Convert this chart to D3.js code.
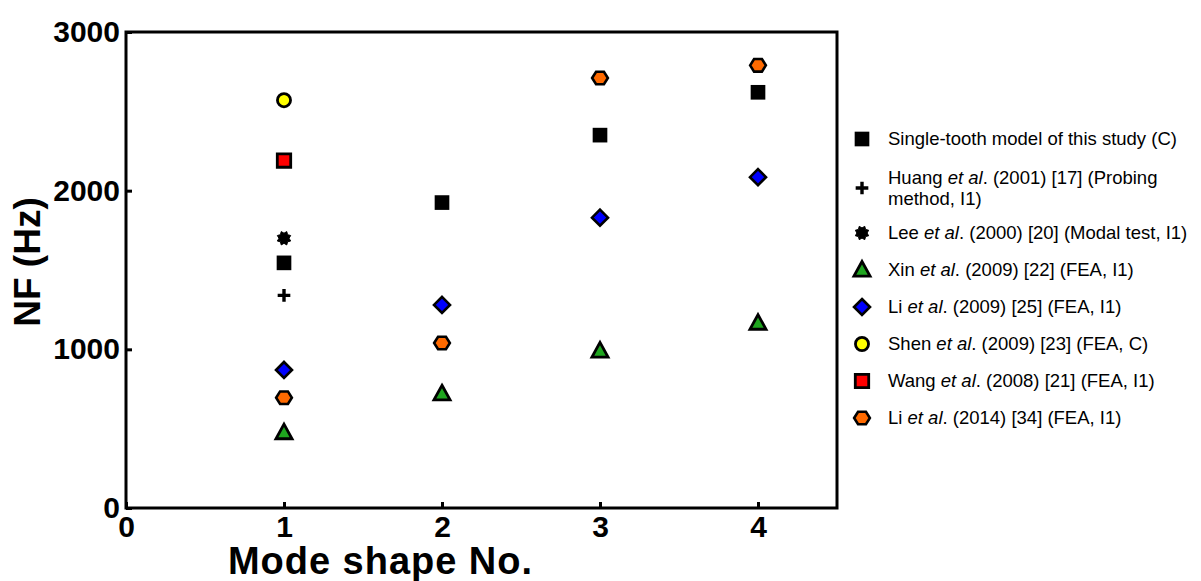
<!DOCTYPE html>
<html>
<head>
<meta charset="utf-8">
<script src="https://cdn.jsdelivr.net/npm/d3@7"></script>
<style>
  html, body { margin: 0; padding: 0; background: #fff; }
  svg { display: block; }
</style>
</head>
<body>
<div id="chart"></div>
<script>
// Natural frequency (Hz) per mode shape
const modes = [1, 2, 3, 4];
const singleTooth = [1545, 1925, 2350, 2620];
const huang = [1340];
const lee = [1700];
const xin = [475, 720, 990, 1165];
const li2009 = [870, 1280, 1830, 2085];
const shen = [2570];
const wang = [2190];
const li2014 = [695, 1040, 2710, 2790];

const xTicks = [0, 1, 2, 3, 4];
const yTicks = [0, 1000, 2000, 3000];

// legend text: [before, italic, after]
const legendLabels = [
  ['Single-tooth model of this study (C)', '', ''],
  ['Huang ', 'et al', '. (2001) [17] (Probing|method, I1)'],
  ['Lee ', 'et al', '. (2000) [20] (Modal test, I1)'],
  ['Xin ', 'et al', '. (2009) [22] (FEA, I1)'],
  ['Li ', 'et al', '. (2009) [25] (FEA, I1)'],
  ['Shen ', 'et al', '. (2009) [23] (FEA, C)'],
  ['Wang ', 'et al', '. (2008) [21] (FEA, I1)'],
  ['Li ', 'et al', '. (2014) [34] (FEA, I1)']
];

const width = 1201, height = 581;
const margin = { top: 32, right: 364, bottom: 73, left: 126 };

// custom marker shapes (size ~ r^2)
const hexagon = {
  draw(ctx, size) {
    const r = Math.sqrt(size);
    const h = r * 0.8;
    ctx.moveTo(-r, 0);
    ctx.lineTo(-r / 2, -h);
    ctx.lineTo(r / 2, -h);
    ctx.lineTo(r, 0);
    ctx.lineTo(r / 2, h);
    ctx.lineTo(-r / 2, h);
    ctx.closePath();
  }
};
const rhombus = {
  draw(ctx, size) {
    const r = Math.sqrt(size);
    ctx.moveTo(0, -r); ctx.lineTo(r, 0); ctx.lineTo(0, r); ctx.lineTo(-r, 0);
    ctx.closePath();
  }
};
const triangle = {
  draw(ctx, size) {
    const r = Math.sqrt(size);
    ctx.moveTo(0, -r); ctx.lineTo(r * 0.95, r * 0.72); ctx.lineTo(-r * 0.95, r * 0.72);
    ctx.closePath();
  }
};
const asterisk = {
  draw(ctx, size) {
    const ro = Math.sqrt(size), ri = ro * 0.7;
    for (let i = 0; i < 16; i++) {
      const a = Math.PI * i / 8 + Math.PI / 8;
      const rr = i % 2 === 0 ? ro : ri;
      if (i === 0) ctx.moveTo(rr * Math.cos(a), rr * Math.sin(a));
      else ctx.lineTo(rr * Math.cos(a), rr * Math.sin(a));
    }
    ctx.closePath();
  }
};
const cross = {
  draw(ctx, size) {
    const r = Math.sqrt(size);
    ctx.moveTo(-r, 0); ctx.lineTo(r, 0);
    ctx.moveTo(0, -r); ctx.lineTo(0, r);
  }
};

const series = [
  { values: singleTooth, type: d3.symbolSquare, size: 215, fill: '#000', stroke: 'none', sw: 0 },
  { values: huang, type: cross, size: 40, fill: 'none', stroke: '#000', sw: 3.4 },
  { values: lee, type: asterisk, size: 52, fill: '#000', stroke: '#000', sw: 1 },
  { values: xin, type: triangle, size: 72, fill: '#1fa51f', stroke: '#000', sw: 2.8 },
  { values: li2009, type: rhombus, size: 64, fill: '#0000ff', stroke: '#000', sw: 2.6 },
  { values: shen, type: d3.symbolCircle, size: 135, fill: '#ffff00', stroke: '#000', sw: 2.8 },
  { values: wang, type: d3.symbolSquare, size: 180, fill: '#ff0000', stroke: '#000', sw: 2.8 },
  { values: li2014, type: hexagon, size: 62, fill: '#ff6a00', stroke: '#000', sw: 2.6 }
];

const svg = d3.select('#chart').append('svg')
  .attr('width', width)
  .attr('height', height);

const x = d3.scaleLinear().domain([0, 4.5]).range([margin.left, width - margin.right]);
const y = d3.scaleLinear().domain([0, 3000]).range([height - margin.bottom, margin.top]);

// axes (ticks point inward)
const xAxis = svg.append('g')
  .attr('transform', `translate(0, ${y(0)})`)
  .call(d3.axisBottom(x).tickValues(xTicks).tickFormat(d3.format('d')).tickSize(-6).tickPadding(8));
xAxis.select('.domain').remove();
xAxis.selectAll('line').attr('stroke', '#000').attr('stroke-width', 3);
xAxis.selectAll('text')
  .attr('fill', '#000')
  .style('font', 'bold 30px "Liberation Sans", Arial, sans-serif');

const yAxis = svg.append('g')
  .attr('transform', `translate(${x(0)}, 0)`)
  .call(d3.axisLeft(y).tickValues(yTicks).tickFormat(d3.format('d')).tickSize(-6).tickPadding(6));
yAxis.select('.domain').remove();
yAxis.selectAll('line').attr('stroke', '#000').attr('stroke-width', 3);
yAxis.selectAll('text')
  .attr('fill', '#000')
  .style('font', 'bold 30px "Liberation Sans", Arial, sans-serif');

// plot frame
svg.append('rect')
  .attr('x', x(0))
  .attr('y', y(3000))
  .attr('width', x(4.5) - x(0))
  .attr('height', y(0) - y(3000))
  .attr('fill', 'none')
  .attr('stroke', '#000')
  .attr('stroke-width', 3);

// axis titles
svg.append('text')
  .attr('x', 380)
  .attr('y', 574)
  .attr('text-anchor', 'middle')
  .style('font', 'bold 38px "Liberation Sans", Arial, sans-serif')
  .attr('textLength', 304)
  .text('Mode shape No.');

svg.append('text')
  .attr('transform', `translate(40, ${(y(0) + y(3000)) / 2 - 8}) rotate(-90)`)
  .attr('text-anchor', 'middle')
  .style('font', 'bold 37px "Liberation Sans", Arial, sans-serif')
  .text('NF (Hz)');

// markers
series.forEach((s) => {
  svg.append('g')
    .selectAll('path')
    .data(s.values.map((v, i) => ({ mode: modes[i], value: v })))
    .join('path')
      .attr('d', d3.symbol().type(s.type).size(s.size))
      .attr('transform', (d) => `translate(${x(d.mode)}, ${y(d.value)})`)
      .attr('fill', s.fill)
      .attr('stroke', s.stroke)
      .attr('stroke-width', s.sw)
      .attr('stroke-linejoin', 'miter');
});

// legend
const legendX = 862;
const legendY = (i) => 139 + 37 * i + (i >= 1 ? 12 : 0) + (i >= 2 ? 8 : 0);

const legend = svg.append('g')
  .selectAll('g')
  .data(series.map((s, i) => ({ s, label: legendLabels[i], i })))
  .join('g')
    .attr('transform', (d) => `translate(${legendX}, ${legendY(d.i)})`);

legend.append('path')
  .attr('d', (d) => d3.symbol().type(d.s.type).size(d.s.size)())
  .attr('fill', (d) => d.s.fill)
  .attr('stroke', (d) => d.s.stroke)
  .attr('stroke-width', (d) => d.s.sw);

legend.each(function (d) {
  const [pre, ital, post] = d.label;
  const lines = post.split('|');
  const t = d3.select(this).append('text')
    .attr('x', 26)
    .attr('y', lines.length > 1 ? -4 : 6)
    .style('font', '18.5px "Liberation Sans", Arial, sans-serif')
    .attr('fill', '#000');
  t.append('tspan').text(pre);
  if (ital) t.append('tspan').style('font-style', 'italic').text(ital);
  t.append('tspan').text(lines[0]);
  if (lines.length > 1) {
    t.append('tspan').attr('x', 26).attr('dy', 21).text(lines[1]);
  }
});
</script>
</body>
</html>
